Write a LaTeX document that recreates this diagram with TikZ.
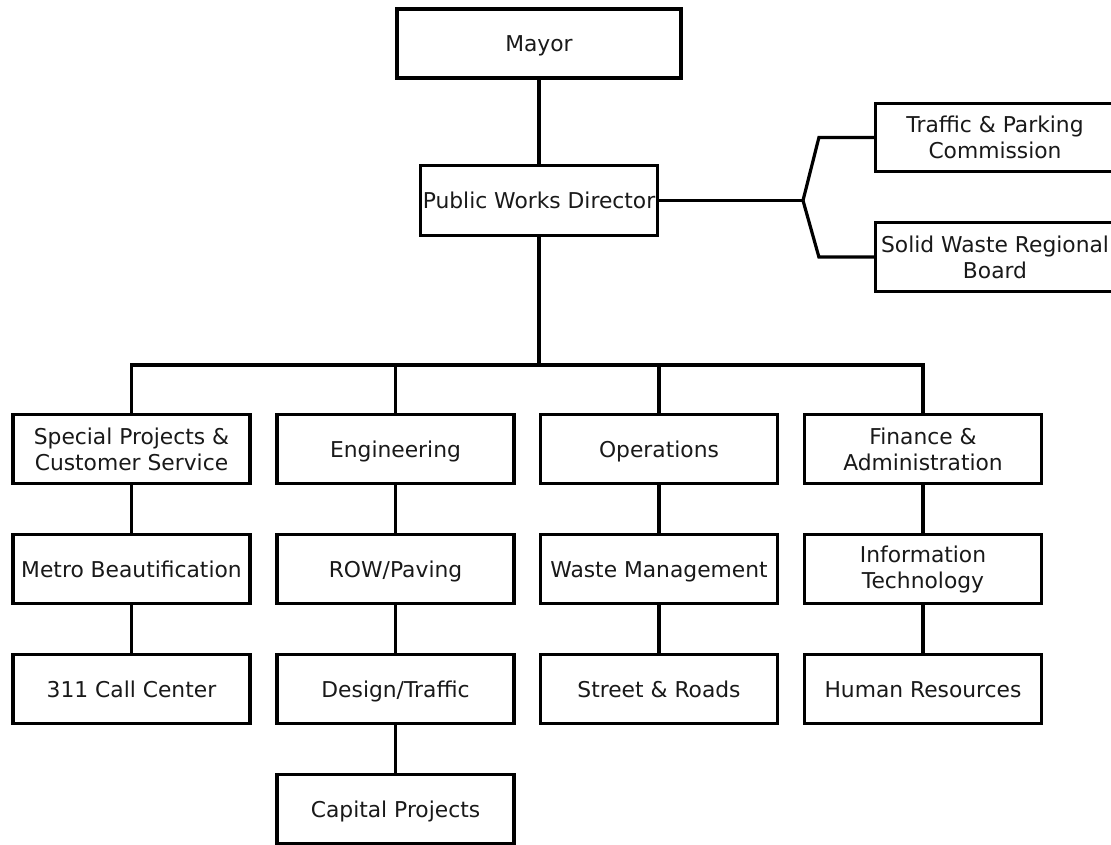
\documentclass[tikz,border=0pt]{standalone}
\usepackage{fontspec}
\setmainfont{DejaVu Sans}
\begin{document}
\begin{tikzpicture}[x=1pt,y=-1pt,
  orgbox/.style={draw=black, line width=3.2pt, rectangle, inner sep=0pt,
    minimum width=237pt, minimum height=69pt, align=center,
    font=\fontsize{21.8}{26}\selectfont, text=black!90},
  oneline/.style={orgbox, text height=16pt, text depth=0pt},
  link/.style={draw=black, line width=3.2pt, line join=miter}]
\useasboundingbox[fill=white] (0,0) rectangle (1111,844);

% top of the hierarchy
\node[oneline, minimum width=284pt] (mayor) at (539,43.5) {Mayor};
\node[oneline, minimum height=70pt] (pwd) at (539,200.5) {Public Works Director};

% commissions and boards
\node[orgbox, minimum width=239pt, minimum height=68pt] (tpc) at (995,137.5) {Traffic \& Parking\\Commission};
\node[orgbox, minimum width=239pt] (swb) at (995,257) {Solid Waste Regional\\Board};

% divisions
\node[orgbox] (spc) at (131.5,449) {Special Projects \&\\Customer Service};
\node[oneline] (eng) at (395.5,449) {Engineering};
\node[oneline] (ops) at (659,449) {Operations};
\node[orgbox] (fin) at (923,449) {Finance \&\\Administration};

% sections
\node[oneline] (metro) at (131.5,569) {Metro Beautification};
\node[oneline] (row) at (395.5,569) {ROW/Paving};
\node[oneline] (waste) at (659,569) {Waste Management};
\node[orgbox] (it) at (923,569) {Information\\Technology};

\node[oneline] (call) at (131.5,689) {311 Call Center};
\node[oneline] (design) at (395.5,689) {Design/Traffic};
\node[oneline] (roads) at (659,689) {Street \& Roads};
\node[oneline] (hr) at (923,689) {Human Resources};

\node[oneline] (cap) at (395.5,809) {Capital Projects};

% connectors
\coordinate (bus) at (539,365);
\coordinate (fork) at (803,200.5);

\draw[link] (mayor) -- (pwd);
\draw[link] (pwd) -- (bus);
\draw[link] (spc.north) |- (bus) -| (fin.north);
\draw[link] (eng.north) -- (eng.north |- bus);
\draw[link] (ops.north) -- (ops.north |- bus);

\draw[link] (pwd.east) -- (fork);
\draw[link] (fork) -- ([xshift=-55pt]tpc.west) -- (tpc.west);
\draw[link] (fork) -- ([xshift=-55pt]swb.west) -- (swb.west);

\draw[link] (spc) -- (metro);
\draw[link] (metro) -- (call);
\draw[link] (eng) -- (row);
\draw[link] (row) -- (design);
\draw[link] (design) -- (cap);
\draw[link] (ops) -- (waste);
\draw[link] (waste) -- (roads);
\draw[link] (fin) -- (it);
\draw[link] (it) -- (hr);
\end{tikzpicture}
\end{document}
